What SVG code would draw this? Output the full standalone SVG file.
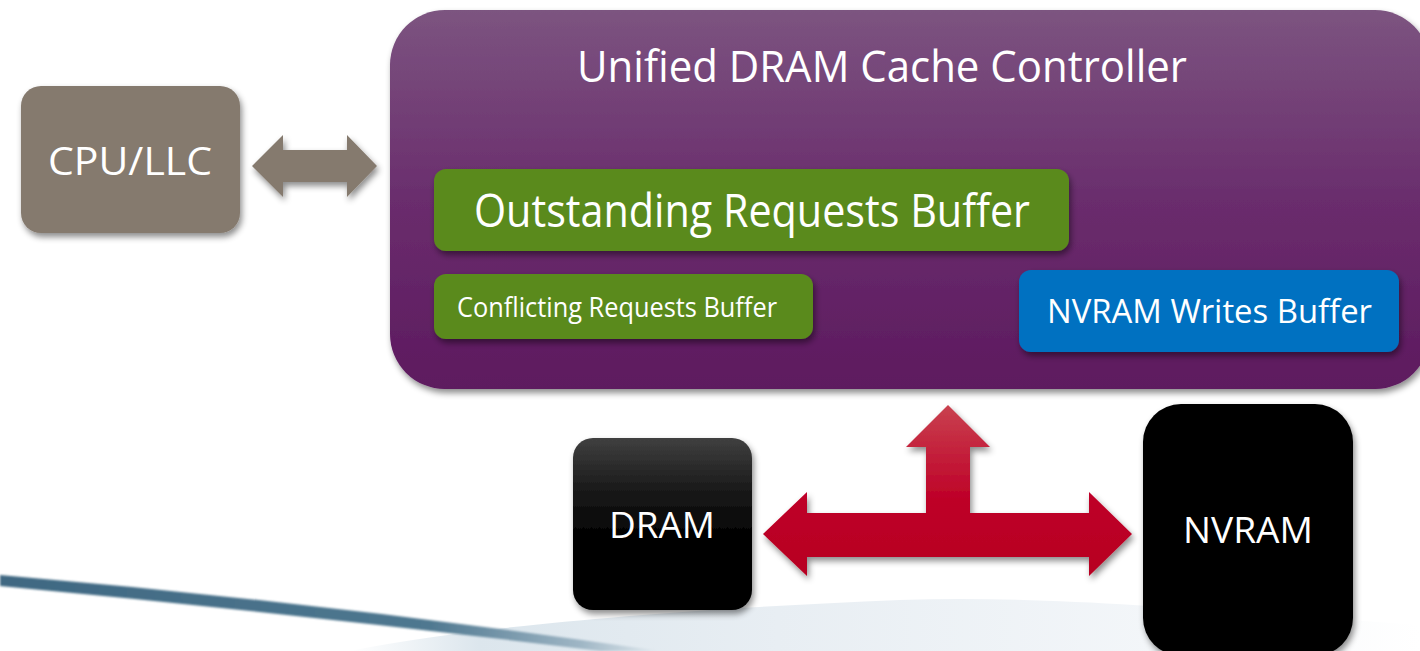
<svg xmlns="http://www.w3.org/2000/svg" width="1420" height="651" viewBox="0 0 1420 651">
<style>
text{font-family:"Open Sans","Noto Sans","Liberation Sans",sans-serif;fill:#ffffff}
.sh{filter:url(#shadow)}
</style>
<defs>
<filter id="shadow" x="-10%" y="-10%" width="130%" height="140%">
<feDropShadow dx="2" dy="4" stdDeviation="3" flood-color="#000" flood-opacity="0.45"/>
</filter>
<filter id="soft" x="-5%" y="-50%" width="110%" height="200%">
<feGaussianBlur stdDeviation="1.2"/>
</filter>
<linearGradient id="purple" x1="0" y1="0" x2="0" y2="1">
<stop offset="0" stop-color="#7c5480"/>
<stop offset="0.5" stop-color="#6a2d6d"/>
<stop offset="1" stop-color="#5d1a5f"/>
</linearGradient>
<linearGradient id="red" x1="0" y1="405" x2="0" y2="576" gradientUnits="userSpaceOnUse">
<stop offset="0" stop-color="#c9414f"/>
<stop offset="0.55" stop-color="#be0128"/>
<stop offset="1" stop-color="#b70021"/>
</linearGradient>
<linearGradient id="dram" x1="0" y1="0" x2="0" y2="1">
<stop offset="0" stop-color="#404040"/>
<stop offset="0.3" stop-color="#1a1a1a"/>
<stop offset="0.6" stop-color="#000"/>
<stop offset="1" stop-color="#000"/>
</linearGradient>
<linearGradient id="swoosh" x1="0" y1="0" x2="660" y2="0" gradientUnits="userSpaceOnUse">
<stop offset="0" stop-color="#3f6882"/>
<stop offset="0.65" stop-color="#4f7890"/>
<stop offset="0.88" stop-color="#9fb6c5"/>
<stop offset="1" stop-color="#e3ebf0"/>
</linearGradient>
<linearGradient id="wave" x1="350" y1="0" x2="1420" y2="0" gradientUnits="userSpaceOnUse">
<stop offset="0" stop-color="#ffffff"/>
<stop offset="0.12" stop-color="#dce6ed"/>
<stop offset="0.4" stop-color="#e8eef3"/>
<stop offset="0.75" stop-color="#f3f6f9"/>
<stop offset="1" stop-color="#ffffff"/>
</linearGradient>
</defs>
<rect width="1420" height="651" fill="#ffffff"/>
<g id="background">
<path d="M350,651 C450,630 650,610 900,600 C1050,595 1200,610 1420,625 L1420,651 Z" fill="url(#wave)"/>
<path d="M0,575 Q330,603 660,651 L600,651 Q300,614 0,586 Z" fill="url(#swoosh)" filter="url(#soft)"/>
</g>
<g id="controller">
<rect class="sh" x="390" y="10" width="1040" height="379" rx="55" fill="url(#purple)"/>
<text x="577" y="82" font-size="43" textLength="610" lengthAdjust="spacingAndGlyphs">Unified DRAM Cache Controller</text>
</g>
<g id="outstanding">
<rect class="sh" x="434" y="169" width="635" height="82" rx="12" fill="#5a8a1b"/>
<text x="474" y="227" font-size="46" textLength="556" lengthAdjust="spacingAndGlyphs">Outstanding Requests Buffer</text>
</g>
<g id="conflicting">
<rect class="sh" x="434" y="274" width="379" height="65" rx="12" fill="#5a8a1b"/>
<text x="457" y="317" font-size="27" textLength="320" lengthAdjust="spacingAndGlyphs">Conflicting Requests Buffer</text>
</g>
<g id="nvramwrites">
<rect class="sh" x="1019" y="270" width="380" height="82" rx="12" fill="#0071c1"/>
<text x="1047" y="323" font-size="32" textLength="325" lengthAdjust="spacingAndGlyphs">NVRAM Writes Buffer</text>
</g>
<g id="cpu">
<rect class="sh" x="21" y="86" width="219" height="147" rx="20" fill="#857a6e"/>
<text x="48" y="175" font-size="39" textLength="164" lengthAdjust="spacingAndGlyphs">CPU/LLC</text>
</g>
<g id="dramnode">
<rect class="sh" x="573" y="438" width="179" height="172" rx="20" fill="url(#dram)"/>
<text x="609" y="538" font-size="36" textLength="106" lengthAdjust="spacingAndGlyphs">DRAM</text>
</g>
<g id="nvram">
<rect class="sh" x="1143" y="404" width="210" height="252" rx="38" fill="#000"/>
<text x="1183" y="543" font-size="36" textLength="130" lengthAdjust="spacingAndGlyphs">NVRAM</text>
</g>
<g id="connectors">
<polygon class="sh" points="252,166 283,135 283,150 347,150 347,135 377,166 347,197 347,182 283,182 283,197" fill="#857a6e"/>
<polygon class="sh" points="763,534 807,492 807,513 926,513 926,447 906,447 948,405 990,447 970,447 970,513 1089,513 1089,492 1132,534 1089,576 1089,557 807,557 807,576" fill="url(#red)"/>
</g>
</svg>
